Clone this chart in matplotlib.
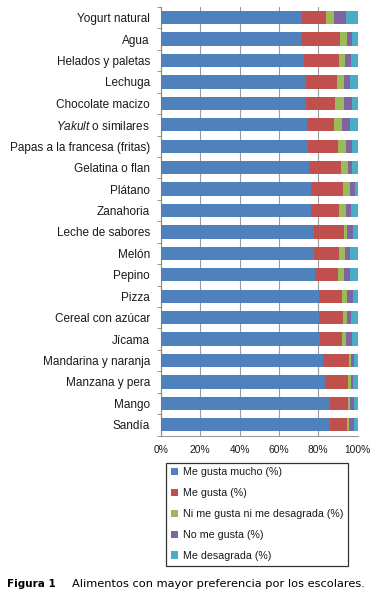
import numpy as np
import matplotlib.pyplot as plt

# foods, top to bottom
foods = ['Yogurt natural', 'Agua', 'Helados y paletas', 'Lechuga',
         'Chocolate macizo', '$\\it{Yakult}$ o similares', 'Papas a la francesa (fritas)',
         'Gelatina o flan', 'Plátano', 'Zanahoria', 'Leche de sabores', 'Melón',
         'Pepino', 'Pizza', 'Cereal con azúcar', 'Jícama', 'Mandarina y naranja',
         'Manzana y pera', 'Mango', 'Sandía']

mucho = [71.7, 71.9, 72.9, 73.9, 73.9, 74.4, 74.7, 75.9, 76.4, 76.4,
         77.8, 78.0, 78.6, 80.5, 80.5, 81.0, 82.2, 83.7, 85.9, 86.1]
gusta = [12.5, 19.1, 17.9, 15.6, 14.4, 13.6, 15.6, 15.5, 16.1, 14.1,
         15.1, 12.5, 11.4, 11.7, 12.2, 11.0, 13.4, 11.7, 9.4, 8.5]
ni = [3.6, 3.7, 2.8, 3.4, 4.8, 3.9, 3.8, 3.7, 3.6, 3.9,
      2.0, 2.9, 2.9, 2.7, 2.2, 1.9, 1.2, 1.4, 1.0, 1.3]
no_gusta = [6.4, 2.6, 3.0, 3.2, 4.0, 4.2, 3.2, 2.0, 2.4, 2.5,
            2.6, 3.0, 3.4, 2.7, 2.0, 3.2, 1.5, 1.0, 1.7, 2.2]
desagrada = [5.8, 2.7, 3.4, 3.9, 2.9, 3.9, 2.7, 2.9, 1.5, 3.1,
             2.5, 3.6, 3.7, 2.4, 3.1, 2.9, 1.7, 2.2, 2.0, 1.9]

series = ['Me gusta mucho (%)', 'Me gusta (%)', 'Ni me gusta ni me desagrada (%)',
          'No me gusta (%)', 'Me desagrada (%)']
colors = ['#4F81BD', '#C0504D', '#9BBB59', '#8064A2', '#4BACC6']

plt.rcParams['font.family'] = ['Liberation Sans', 'DejaVu Sans']
plt.rcParams['mathtext.fontset'] = 'custom'
plt.rcParams['mathtext.it'] = 'Liberation Sans:italic'

fig = plt.figure(figsize=(3.8, 6), dpi=100)
ax = fig.add_axes([161/380, 1-435.5/600, 196.5/380, 428.5/600])

data = np.array([mucho, gusta, ni, no_gusta, desagrada])
# normalise each food to 100 %
data = data / data.sum(axis=0) * 100
y = np.arange(len(foods))
left = np.zeros(len(foods))
for vals, name, c in zip(data, series, colors):
    ax.barh(y, vals, left=left, height=0.62, color=c, label=name, zorder=3)
    left += vals

ax.set_xlim(0, 100)
ax.set_ylim(19.5, -0.5)
ax.set_yticks(y)
ax.set_yticklabels(foods, fontsize=8.5, color='#1a1a1a')
ax.set_yticks(np.arange(-0.5, 20, 1), minor=True)
ax.set_xticks(np.arange(0, 101, 20))
ax.set_xticklabels(['%d%%' % v for v in range(0, 101, 20)], fontsize=7.4, color='#1a1a1a')
ax.tick_params(axis='y', which='major', length=0, pad=8)
ax.tick_params(axis='y', which='minor', length=3, color='#868686')
ax.tick_params(axis='x', length=0, pad=7)
ax.xaxis.grid(True, color='#9a9a9a', lw=0.8, zorder=0)
for s in ['top', 'right']:
    ax.spines[s].set_visible(False)
ax.spines['left'].set_color('#868686')
ax.spines['bottom'].set_color('#9a9a9a')

leg = fig.legend(loc='upper left', bbox_to_anchor=(166/380, 1-462.5/600),
                 fontsize=7.7, frameon=True, fancybox=False, edgecolor='black',
                 handlelength=0.7, handleheight=0.7, handletextpad=0.4,
                 labelspacing=1.02, borderpad=0.45, borderaxespad=0)
leg.get_frame().set_linewidth(0.9)
for t in leg.get_texts():
    t.set_color('#1a1a1a')

fig.text(7/380, 1-584/600, 'Figura 1', fontsize=7.5, fontweight='bold',
         family='DejaVu Sans', va='center')
fig.text(72/380, 1-584/600, 'Alimentos con mayor preferencia por los escolares.',
         fontsize=8.2, family='DejaVu Sans', va='center')

fig.savefig('out.png', dpi=100)
